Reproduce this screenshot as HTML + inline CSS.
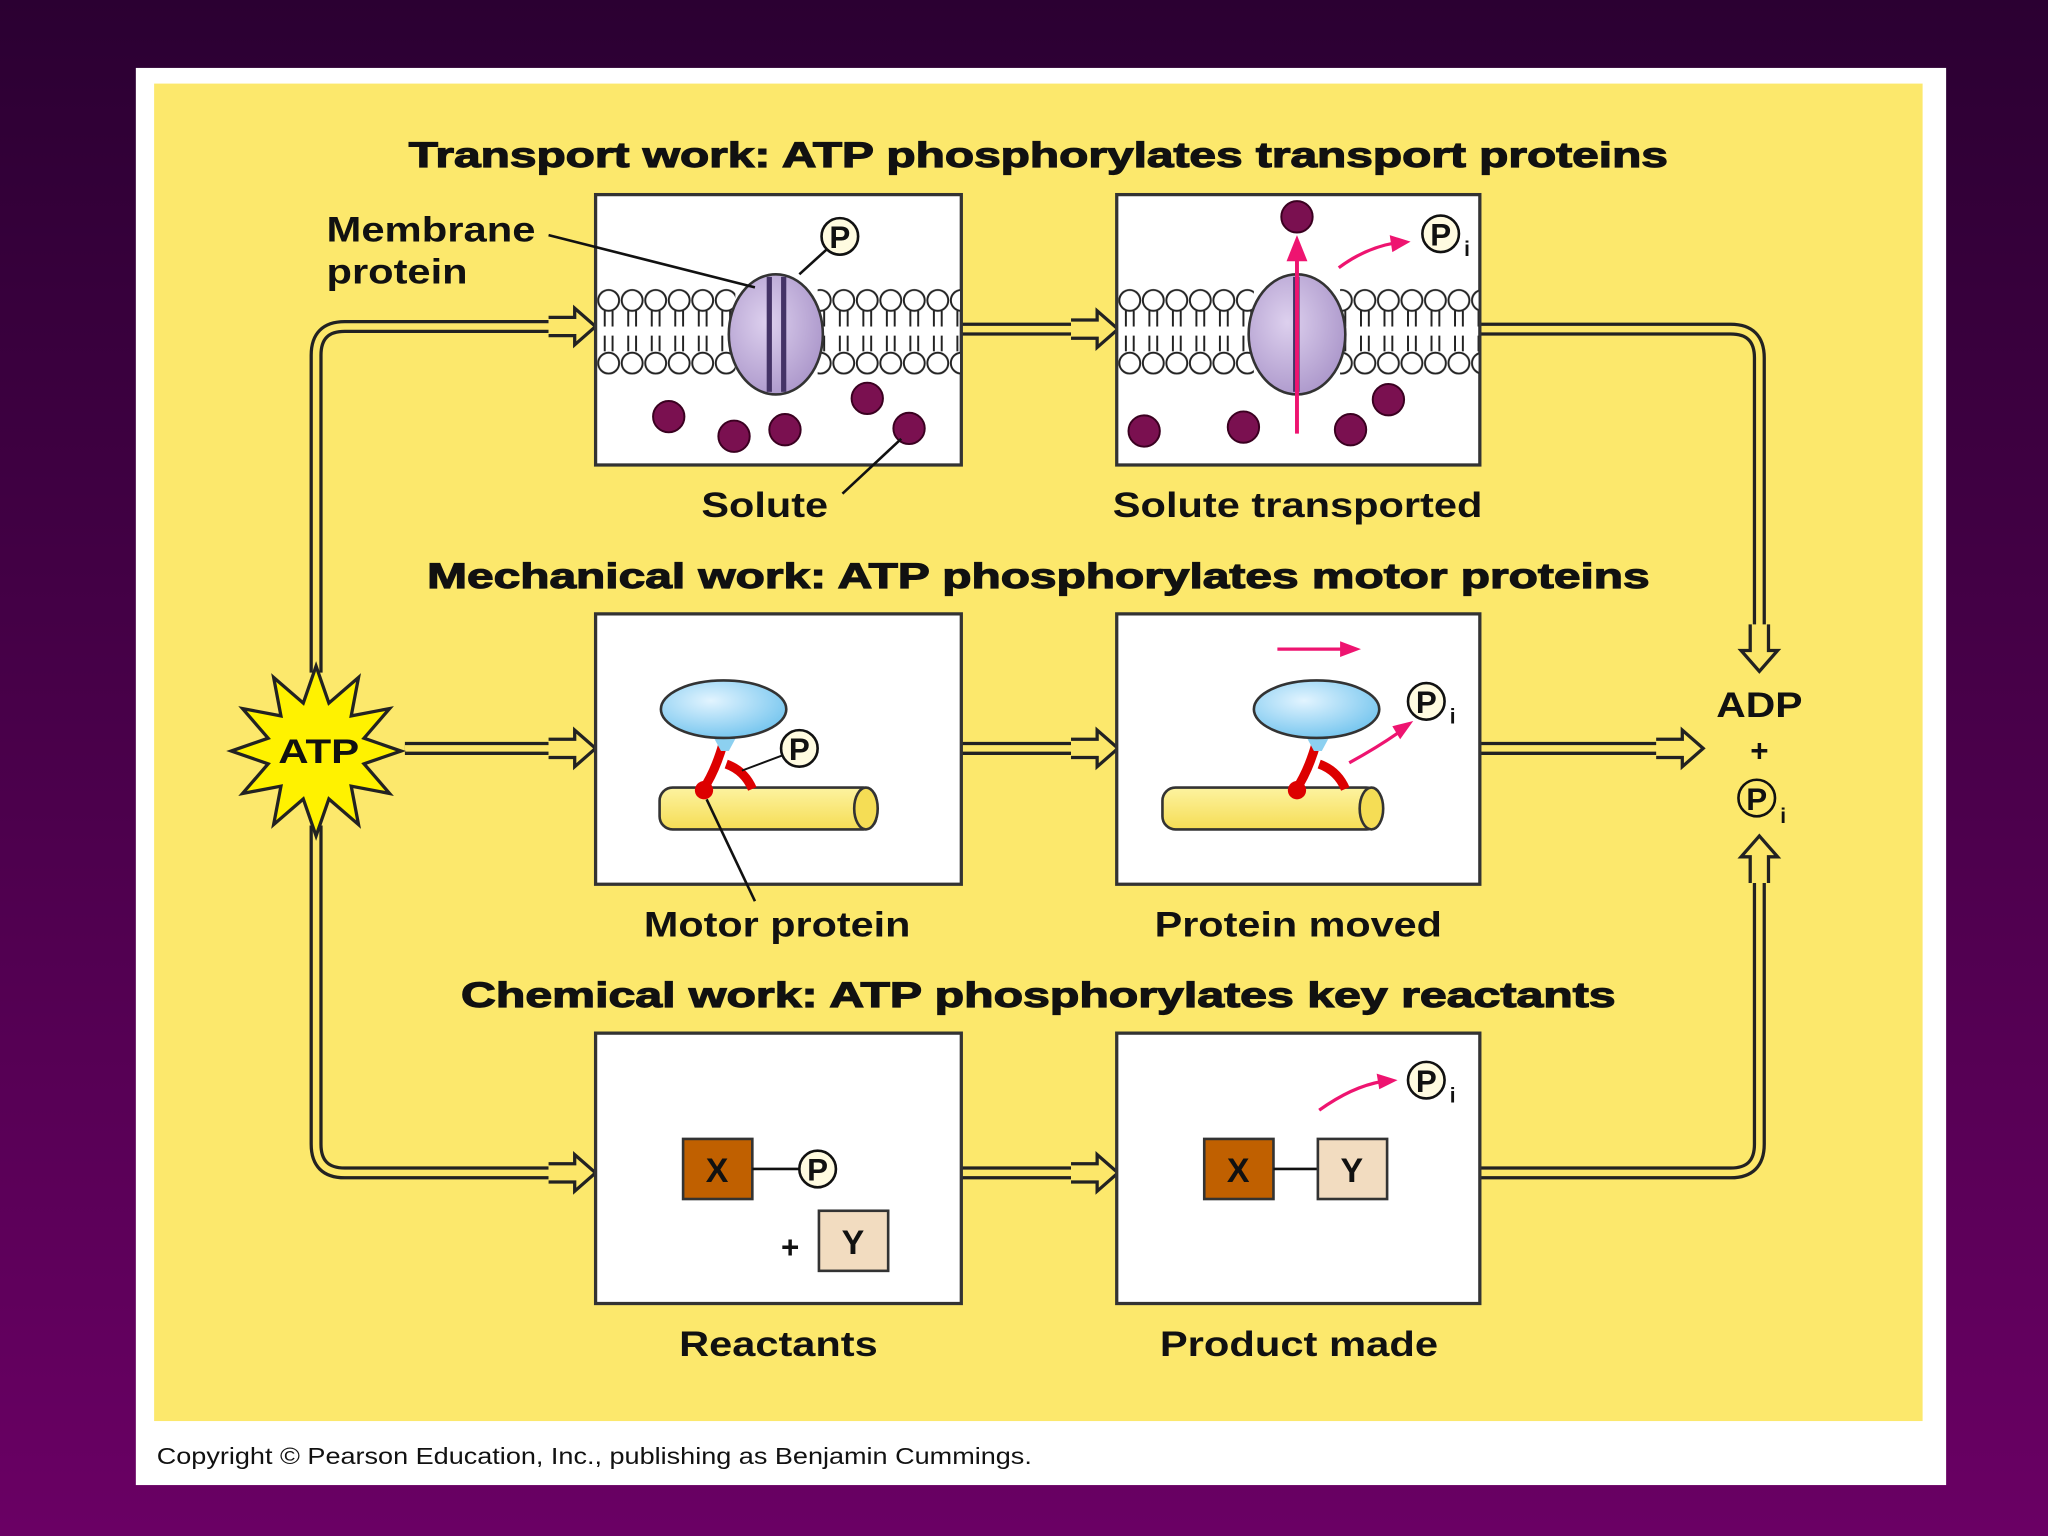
<!DOCTYPE html>
<html><head><meta charset="utf-8"><style>
html,body{margin:0;padding:0;width:2048px;height:1536px;overflow:hidden;background:#3a0040}
svg{display:block}
text{font-family:"Liberation Sans",Arial,sans-serif;font-weight:bold;fill:#111}
.t{stroke:#111;stroke-width:0.9}
</style></head><body>
<svg width="2048" height="1536" viewBox="0 0 1568 1176" xmlns="http://www.w3.org/2000/svg">
<defs>
<linearGradient id="bg" x1="0" y1="0" x2="0" y2="1"><stop offset="0" stop-color="#2b0032"/><stop offset="1" stop-color="#6a0064"/></linearGradient>
<radialGradient id="blue" cx="0.4" cy="0.35" r="0.7"><stop offset="0" stop-color="#e2f4ff"/><stop offset="1" stop-color="#72c4ee"/></radialGradient>
<linearGradient id="rod" x1="0" y1="0" x2="0" y2="1"><stop offset="0" stop-color="#fdf3a0"/><stop offset="1" stop-color="#f5dd55"/></linearGradient>
<radialGradient id="lav" cx="0.4" cy="0.4" r="0.7"><stop offset="0" stop-color="#ddd0ee"/><stop offset="1" stop-color="#a893c8"/></radialGradient>
<pattern id="lip" x="457" y="221" width="18" height="66" patternUnits="userSpaceOnUse">
<circle cx="9" cy="9" r="8" fill="#fff" stroke="#222" stroke-width="1.5"/>
<path d="M6 17v12 M12 17v12 M6 36v12 M12 36v12" stroke="#222" stroke-width="1.5"/>
<circle cx="9" cy="57" r="8" fill="#fff" stroke="#222" stroke-width="1.5"/>
</pattern>
<pattern id="lip2" x="856" y="221" width="18" height="66" patternUnits="userSpaceOnUse">
<circle cx="9" cy="9" r="8" fill="#fff" stroke="#222" stroke-width="1.5"/>
<path d="M6 17v12 M12 17v12 M6 36v12 M12 36v12" stroke="#222" stroke-width="1.5"/>
<circle cx="9" cy="57" r="8" fill="#fff" stroke="#222" stroke-width="1.5"/>
</pattern>
<g id="arrR"><path d="M0 -7 L20 -7 L20 -14 L36 0 L20 14 L20 7 L0 7" fill="#fce76a" stroke="#222" stroke-width="2.5" stroke-linejoin="miter"/></g>
</defs>
<rect width="1568" height="1176" fill="url(#bg)"/>
<rect x="104" y="52" width="1386" height="1085" fill="#fff"/>
<rect x="118" y="64" width="1354" height="1024" fill="#fce86c"/>
<text x="120" y="1121" style="font-weight:normal" font-size="18" textLength="670" lengthAdjust="spacingAndGlyphs">Copyright © Pearson Education, Inc., publishing as Benjamin Cummings.</text>

<g fill="none" stroke-linejoin="round">
<g stroke="#222" stroke-width="10">
<path d="M242 515 V272 Q242 250 264 250 H420"/>
<path d="M242 632 V876 Q242 898 264 898 H420"/>
<path d="M1133 252 H1325 Q1347 252 1347 274 V492"/>
<path d="M1133 898 H1325 Q1347 898 1347 876 V662"/>
<path d="M310 573 H420 M736 573 H820 M736 252 H820 M736 898 H820 M1133 573 H1270"/>
</g>
<g stroke="#fce76a" stroke-width="5">
<path d="M242 515 V272 Q242 250 264 250 H422"/>
<path d="M242 632 V876 Q242 898 264 898 H422"/>
<path d="M1133 252 H1325 Q1347 252 1347 274 V494"/>
<path d="M1133 898 H1325 Q1347 898 1347 876 V660"/>
<path d="M310 573 H422 M736 573 H822 M736 252 H822 M736 898 H822 M1133 573 H1272"/>
</g>
</g>
<use href="#arrR" transform="translate(420 250)"/>
<use href="#arrR" transform="translate(420 898)"/>
<use href="#arrR" transform="translate(420 573)"/>
<use href="#arrR" transform="translate(820 252)"/>
<use href="#arrR" transform="translate(820 573)"/>
<use href="#arrR" transform="translate(820 898)"/>
<use href="#arrR" transform="translate(1268 573)"/>
<use href="#arrR" transform="translate(1347 478) rotate(90)"/>
<use href="#arrR" transform="translate(1347 676) rotate(-90)"/>

<text class="t" x="313" y="128" font-size="27" textLength="964" lengthAdjust="spacingAndGlyphs">Transport work: ATP phosphorylates transport proteins</text>
<text class="t" x="327" y="450" font-size="27" textLength="936" lengthAdjust="spacingAndGlyphs">Mechanical work: ATP phosphorylates motor proteins</text>
<text class="t" x="353" y="771" font-size="27" textLength="884" lengthAdjust="spacingAndGlyphs">Chemical work: ATP phosphorylates key reactants</text>

<g fill="#fff" stroke="#333" stroke-width="2.5">
<rect x="456" y="149" width="280" height="207"/>
<rect x="855" y="149" width="278" height="207"/>
<rect x="456" y="470" width="280" height="207"/>
<rect x="855" y="470" width="278" height="207"/>
<rect x="456" y="791" width="280" height="207"/>
<rect x="855" y="791" width="278" height="207"/>
</g>

<rect x="457" y="221" width="106" height="66" fill="url(#lip)"/>
<rect x="626" y="221" width="109" height="66" fill="url(#lip)"/>
<ellipse cx="594" cy="256" rx="36" ry="46" fill="url(#lav)" stroke="#333" stroke-width="2"/>
<rect x="587" y="212" width="4" height="88" fill="#443366"/><rect x="598" y="212" width="4" height="88" fill="#443366"/>
<rect x="856" y="221" width="104" height="66" fill="url(#lip2)"/>
<rect x="1026" y="221" width="106" height="66" fill="url(#lip2)"/>
<ellipse cx="993" cy="256" rx="37" ry="46" fill="url(#lav)" stroke="#333" stroke-width="2"/>
<rect x="990" y="212" width="5" height="88" fill="#443366"/>
<g fill="#7a1050" stroke="#3a0020" stroke-width="1.5">
<circle cx="512" cy="319" r="12"/><circle cx="562" cy="334" r="12"/><circle cx="601" cy="329" r="12"/><circle cx="664" cy="305" r="12"/><circle cx="696" cy="328" r="12"/>
<circle cx="876" cy="330" r="12"/><circle cx="952" cy="327" r="12"/><circle cx="1034" cy="329" r="12"/><circle cx="1063" cy="306" r="12"/><circle cx="993" cy="166" r="12"/>
</g>
<path d="M993 332 V195" stroke="#ee1470" stroke-width="3"/><path d="M985 200 L993 180 L1001 200Z" fill="#ee1470"/>
<path d="M1025 205 Q1045 190 1068 186" stroke="#ee1470" stroke-width="2.5" fill="none"/><path d="M1064 180 L1080 185 L1066 193Z" fill="#ee1470"/>
<line x1="420" y1="180" x2="578" y2="220" stroke="#111" stroke-width="2"/>
<line x1="612" y1="210" x2="634" y2="190" stroke="#111" stroke-width="2"/>
<circle cx="643" cy="181" r="14" fill="#fffbe0" stroke="#111" stroke-width="2"/><text x="643" y="190" text-anchor="middle" font-size="24">P</text>
<circle cx="1103" cy="179" r="14" fill="#fffbe0" stroke="#111" stroke-width="2"/><text x="1103" y="188" text-anchor="middle" font-size="24">P</text><text x="1121" y="196" font-size="16">i</text>
<line x1="645" y1="378" x2="690" y2="336" stroke="#111" stroke-width="2"/>

<g>
<rect x="505" y="603" width="166" height="32" rx="10" fill="url(#rod)" stroke="#333" stroke-width="2"/>
<ellipse cx="663" cy="619" rx="9" ry="16" fill="#f5dd55" stroke="#333" stroke-width="2"/>
<path d="M554 568 Q548 590 538 605 M556 585 Q570 590 576 604" stroke="#d00" stroke-width="7" fill="none"/><circle cx="539" cy="605" r="7" fill="#d00"/>
<path d="M545 562 L565 562 L558 575 L552 575Z" fill="#8cd0f0"/>
<ellipse cx="554" cy="543" rx="48" ry="22" fill="url(#blue)" stroke="#333" stroke-width="2"/>
<line x1="568" y1="590" x2="600" y2="578" stroke="#111" stroke-width="1.5"/>
<circle cx="612" cy="573" r="14" fill="#fffbe0" stroke="#111" stroke-width="2"/><text x="612" y="582" text-anchor="middle" font-size="24">P</text>
<line x1="541" y1="612" x2="578" y2="690" stroke="#111" stroke-width="2"/>
</g>
<g>
<rect x="890" y="603" width="166" height="32" rx="10" fill="url(#rod)" stroke="#333" stroke-width="2"/>
<ellipse cx="1050" cy="619" rx="9" ry="16" fill="#f5dd55" stroke="#333" stroke-width="2"/>
<path d="M1008 568 Q1002 590 992 605 M1010 585 Q1024 590 1030 604" stroke="#d00" stroke-width="7" fill="none"/><circle cx="993" cy="605" r="7" fill="#d00"/>
<path d="M999 562 L1019 562 L1012 575 L1006 575Z" fill="#8cd0f0"/>
<ellipse cx="1008" cy="543" rx="48" ry="22" fill="url(#blue)" stroke="#333" stroke-width="2"/>
<circle cx="1092" cy="537" r="14" fill="#fffbe0" stroke="#111" stroke-width="2"/><text x="1092" y="546" text-anchor="middle" font-size="24">P</text><text x="1110" y="554" font-size="16">i</text>
<path d="M1033 584 Q1055 572 1072 560" stroke="#ee1470" stroke-width="2.5" fill="none"/><path d="M1066 556 L1082 552 L1072 566Z" fill="#ee1470"/>
<path d="M978 497 H1028" stroke="#ee1470" stroke-width="2.5"/><path d="M1026 491 L1042 497 L1026 503Z" fill="#ee1470"/>
</g>

<rect x="523" y="872" width="53" height="46" fill="#c06000" stroke="#333" stroke-width="2"/><text x="549" y="905" text-anchor="middle" font-size="26">X</text>
<line x1="576" y1="895" x2="612" y2="895" stroke="#111" stroke-width="2"/>
<circle cx="626" cy="895" r="14" fill="#fffbe0" stroke="#111" stroke-width="2"/><text x="626" y="904" text-anchor="middle" font-size="24">P</text>
<text x="605" y="963" text-anchor="middle" font-size="24">+</text>
<rect x="627" y="927" width="53" height="46" fill="#f2dcc0" stroke="#333" stroke-width="2"/><text x="653" y="960" text-anchor="middle" font-size="26">Y</text>
<rect x="922" y="872" width="53" height="46" fill="#c06000" stroke="#333" stroke-width="2"/><text x="948" y="905" text-anchor="middle" font-size="26">X</text>
<line x1="975" y1="895" x2="1009" y2="895" stroke="#111" stroke-width="2"/>
<rect x="1009" y="872" width="53" height="46" fill="#f2dcc0" stroke="#333" stroke-width="2"/><text x="1035" y="905" text-anchor="middle" font-size="26">Y</text>
<path d="M1010 850 Q1035 832 1058 828" stroke="#ee1470" stroke-width="2.5" fill="none"/><path d="M1054 822 L1070 827 L1056 834Z" fill="#ee1470"/>
<circle cx="1092" cy="827" r="14" fill="#fffbe0" stroke="#111" stroke-width="2"/><text x="1092" y="836" text-anchor="middle" font-size="24">P</text><text x="1110" y="844" font-size="16">i</text>

<text x="250" y="185" font-size="27" textLength="160" lengthAdjust="spacingAndGlyphs">Membrane</text>
<text x="250" y="217" font-size="27" textLength="108" lengthAdjust="spacingAndGlyphs">protein</text>
<text x="537" y="396" font-size="27" textLength="97" lengthAdjust="spacingAndGlyphs">Solute</text>
<text x="852" y="396" font-size="27" textLength="283" lengthAdjust="spacingAndGlyphs">Solute transported</text>
<text x="493" y="717" font-size="27" textLength="204" lengthAdjust="spacingAndGlyphs">Motor protein</text>
<text x="884" y="717" font-size="27" textLength="220" lengthAdjust="spacingAndGlyphs">Protein moved</text>
<text x="520" y="1038" font-size="27" textLength="152" lengthAdjust="spacingAndGlyphs">Reactants</text>
<text x="888" y="1038" font-size="27" textLength="213" lengthAdjust="spacingAndGlyphs">Product made</text>
<text x="1314" y="549" font-size="27" textLength="66" lengthAdjust="spacingAndGlyphs">ADP</text>
<text x="1347" y="583" text-anchor="middle" font-size="24">+</text>
<circle cx="1345" cy="611" r="14" fill="#fce86c" stroke="#111" stroke-width="2"/><text x="1345" y="620" text-anchor="middle" font-size="24">P</text><text x="1363" y="630" font-size="16">i</text>

<polygon points="307,575 278.7,584.8 298.3,607.5 268.9,601.9 274.5,631.3 251.8,611.7 242,640 232.2,611.7 209.5,631.3 215.1,601.9 185.7,607.5 205.3,584.8 177,575 205.3,565.2 185.7,542.5 215.1,548.1 209.5,518.7 232.2,538.3 242,510 251.8,538.3 274.5,518.7 268.9,548.1 298.3,542.5 278.7,565.2" fill="#fff200" stroke="#222" stroke-width="2.5"/>
<text x="213" y="584" font-size="26" textLength="62" lengthAdjust="spacingAndGlyphs">ATP</text>
</svg>
</body></html>
